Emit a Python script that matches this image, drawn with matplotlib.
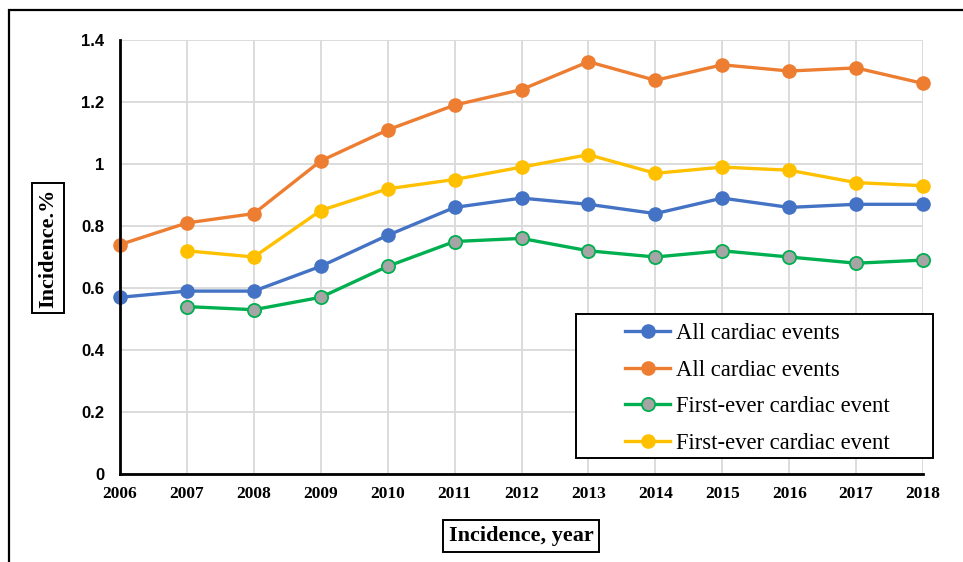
import matplotlib.pyplot as plt
from matplotlib.patches import Rectangle
import numpy as np

years = list(range(2006, 2019))
all_events_a = [0.57, 0.59, 0.59, 0.67, 0.77, 0.86, 0.89, 0.87, 0.84, 0.89, 0.86, 0.87, 0.87]
all_events_b = [0.74, 0.81, 0.84, 1.01, 1.11, 1.19, 1.24, 1.33, 1.27, 1.32, 1.30, 1.31, 1.26]
first_ever_a = [np.nan, 0.54, 0.53, 0.57, 0.67, 0.75, 0.76, 0.72, 0.70, 0.72, 0.70, 0.68, 0.69]
first_ever_b = [np.nan, 0.72, 0.70, 0.85, 0.92, 0.95, 0.99, 1.03, 0.97, 0.99, 0.98, 0.94, 0.93]
y_ticks = [0, 0.2, 0.4, 0.6, 0.8, 1, 1.2, 1.4]
y_tick_labels = ['0', '0.2', '0.4', '0.6', '0.8', '1', '1.2', '1.4']

fig = plt.figure(figsize=(9.63, 5.62), dpi=100)
ax = fig.add_axes([0.1246, 0.1566, 0.8339, 0.7722])

# outer frame around the whole chart
fig.patches.append(Rectangle((9/963, -0.1), 1.2, 1 - 10/562 + 0.1, transform=fig.transFigure,
                             fill=False, edgecolor='black', linewidth=1.6))

kw = dict(linewidth=2.4, marker='o', markersize=9.5, clip_on=False, zorder=3)
ax.plot(years, all_events_a, color='#4472C4', label='All cardiac events', **kw)
ax.plot(years, all_events_b, color='#ED7D31', label='All cardiac events', **kw)
ax.plot(years, first_ever_a, color='#00B050', markerfacecolor='#A5A5A5',
        markeredgecolor='#00B050', markeredgewidth=1.3, label='First-ever cardiac event', **kw)
ax.plot(years, first_ever_b, color='#FFC000', label='First-ever cardiac event', **kw)

ax.set_xlim(2006, 2018)
ax.set_ylim(0, 1.4)
ax.set_xticks(years)
ax.set_xticklabels([str(y) for y in years], fontfamily='Liberation Serif', fontweight='bold', fontsize=12.5)
ax.set_yticks(y_ticks)
ax.set_yticklabels(y_tick_labels, fontfamily='Liberation Sans', fontweight='bold', fontsize=12)
ax.tick_params(axis='both', length=0)
ax.tick_params(axis='y', pad=11.5)
ax.tick_params(axis='x', pad=9)
ax.grid(True, color='#D9D9D9', linewidth=1.3)
ax.set_axisbelow(True)
for s in ['top', 'right']:
    ax.spines[s].set_visible(False)
for s in ['left', 'bottom']:
    ax.spines[s].set_linewidth(2)
    ax.spines[s].set_zorder(4)

# legend box drawn separately so the entries can sit inset
ax.add_patch(Rectangle((0.568, 0.037), 0.4446, 0.332, transform=ax.transAxes,
                       facecolor='white', edgecolor='black', linewidth=1.4, zorder=5, clip_on=False))
leg = ax.legend(loc='center left', bbox_to_anchor=(0.629, 0.197), frameon=False,
                prop={'family': 'Liberation Serif', 'size': 16.3}, borderpad=0, borderaxespad=0,
                handlelength=2.0, handletextpad=0.27, labelspacing=0.7)
leg.set_zorder(6)

box = dict(boxstyle='square,pad=0.25', facecolor='white', edgecolor='black', linewidth=1.4)
fig.text(48/963, 1 - 248/562, 'Incidence.%', rotation=90, ha='center', va='center',
         fontfamily='Liberation Serif', fontweight='bold', fontsize=16, bbox=box)
fig.text(521/963, 1 - 536/562, 'Incidence, year', ha='center', va='center',
         fontfamily='Liberation Serif', fontweight='bold', fontsize=16, bbox=box)

fig.savefig('out.png', dpi=100)
